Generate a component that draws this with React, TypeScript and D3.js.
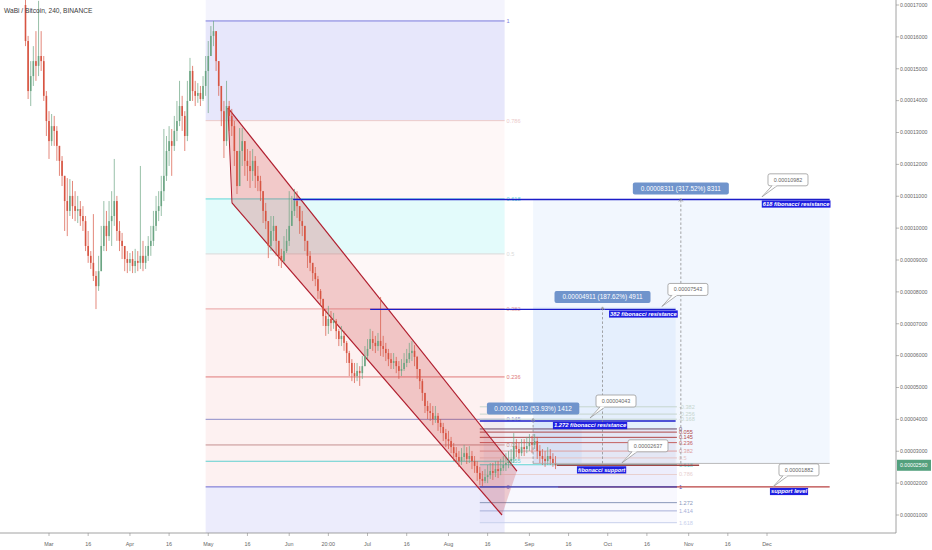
import React from 'react';
import * as d3 from 'd3';

// ---------- DATA (prices in satoshi, 1e-8 BTC) ----------
const TITLE = 'WaBi / Bitcoin, 240, BINANCE';
const CANDLE_START = '2018-02-20';
const FIRST_OPEN = 17000;
const closes = [
  15870,14300,14770,15240,15090,15400,15240,14150,13360,12730,
  13200,13050,12580,12110,11640,10850,10540,11010,10690,10540,
  10600,10380,10220,9440,9130,8910,8500,8180,8650,9440,
  10070,9750,10220,10380,10850,9910,9600,9440,9030,8910,
  9030,8810,8970,8910,9130,8910,9130,9440,9600,10070,
  10540,10690,11160,11640,12420,12730,12580,13050,13360,13830,
  13520,12890,13990,14930,14300,14150,14240,14050,14460,14930,
  15400,16030,16180,15240,14460,13670,12730,13830,13520,13200,
  12420,11320,12420,12730,12110,11950,11790,12110,11640,11480,
  11160,10540,10220,9440,9910,10070,9600,9130,8970,9280,
  9600,10070,10540,10850,10690,10220,10070,9600,9130,8910,
  8590,8400,8030,7780,7240,6930,7150,7020,7090,6770,
  6520,6620,6400,6080,5770,5450,5360,5520,5450,5670,
  5990,6210,6520,6400,6300,6460,6300,6210,6080,5890,
  5770,5830,5670,5520,5580,5770,5890,6080,6150,5960,
  5580,5200,4830,4420,4260,4200,4010,4110,3890,3760,
  3570,3380,3320,3130,2940,2820,2690,2820,2940,2760,
  2850,2690,2540,2320,2130,2070,2190,2250,2380,2320,
  2440,2380,2470,2570,2630,2690,2760,3160,3070,2940,
  3130,3070,3160,3260,3200,3320,3010,2850,2760,2690,
  2850,2760,2630,2560,
];
const highs = [
  17910,16030,15240,15710,16180,17130,16180,15400,14300,13670,
  13580,13520,13200,12580,12260,11640,11570,11540,11480,11160,
  11010,10850,10690,10380,9910,9280,10440,8650,9130,10070,
  10850,10540,10850,11160,12170,11010,10220,9850,9440,9280,
  9220,9280,9350,9280,11950,9600,9440,9750,10070,10540,
  11010,11160,11640,13110,12890,13200,13110,13520,13990,14620,
  14150,13670,14620,15340,15090,14620,14550,14460,14770,15400,
  15870,16340,16500,16180,15090,14300,13990,14620,13990,13740,
  13360,12420,13140,13140,12730,12480,12420,12480,12260,11950,
  11640,11010,10790,10070,10380,10380,10070,9600,9350,9750,
  9970,11160,11010,11230,11160,10690,10540,10070,9440,9280,
  8910,8780,8500,8090,7710,7460,7560,7400,7340,7150,
  6840,6930,6770,6460,6150,5890,5770,5770,5670,5990,
  6300,6520,6840,6770,6620,6710,7840,6620,6400,6210,
  6080,6080,5960,5830,5890,6080,6210,6400,6460,6330,
  5990,5520,5270,4730,4580,4510,4420,4420,4200,4010,
  3890,3700,3640,3450,3260,3130,3010,3100,3200,3130,
  3160,3010,2850,2690,2510,2380,2440,2570,2630,2630,
  2690,2690,2760,2850,2940,3010,3070,3570,3380,3260,
  3380,3380,3450,3540,3480,3540,3450,3200,3070,3010,
  3130,3070,2940,2850,
];
const lows = [
  15710,14050,13830,14460,14620,14770,14930,13990,12890,12170,
  12580,12580,12110,11640,11320,9910,9750,10380,10290,10220,
  10160,10070,9910,9280,8910,8720,8340,7460,8030,8650,
  9280,9280,9600,9440,10070,9600,9280,9030,8650,8590,
  8650,8590,8590,8650,8720,8650,8720,8970,9130,9440,
  9910,10220,10380,10850,11480,11950,11640,12420,12730,13200,
  13050,12420,12730,14150,13990,13830,13930,13830,13990,14150,
  13610,15400,15710,14930,14150,13200,12200,12580,13050,12890,
  11950,11070,11790,11950,11640,11480,11260,11480,11260,11160,
  10850,10160,9970,9060,9280,9600,9130,8810,8750,8910,
  9220,9440,10070,10380,10320,9820,9750,9280,8750,8650,
  8340,8180,7780,7560,6930,6620,6680,6770,6840,6520,
  6300,6300,6150,5770,5360,5200,5140,5200,5050,5270,
  5670,5890,6210,6150,6080,6150,5990,5960,5830,5670,
  5580,5580,5450,5270,5360,5520,5640,5770,5830,5670,
  5270,4950,4580,4200,4010,3950,3820,3890,3640,3570,
  3320,3130,3070,2940,2690,2630,2510,2570,2690,2600,
  2630,2440,2320,2070,1940,1880,2000,2000,2130,2100,
  2190,2160,2250,2380,2380,2470,2540,2630,2820,2760,
  2850,2850,2940,3010,2940,3070,2760,2630,2570,2510,
  2570,2570,2510,2440,
];
const LAST_PRICE = 2560;

const yTicks = [1000,2000,3000,4000,5000,6000,7000,8000,9000,10000,11000,12000,13000,14000,15000,16000,17000];
const xTickDates = ['2018-03-01','2018-03-16','2018-04-01','2018-04-16','2018-05-01','2018-05-16','2018-06-01','2018-06-16','2018-07-01','2018-07-16','2018-08-01','2018-08-16','2018-09-01','2018-09-16','2018-10-01','2018-10-16','2018-11-01','2018-11-16','2018-12-01'];
const xTickLabels = ['Mar','16','Apr','16','May','16','Jun','20:00','Jul','16','Aug','16','Sep','16','Oct','16','Nov','16','Dec'];

// big fibonacci retracement
const bigFibRange = { start: '2018-04-30T00:00', end: '2018-08-22T12:00', p0: 1882, p1: 16500 };
const bigFibLevels = [-0.236, 0, 0.055, 0.09, 0.145, 0.236, 0.382, 0.5, 0.618, 0.786, 1, 1.272];
// small fibonacci retracement
const smallFibRange = { start: '2018-08-13T00:00', end: '2018-10-27T12:00', p0: 3700, p1: 1882 };
const smallFibLevels = [-0.382, -0.256, -0.168, 0, 0.055, 0.145, 0.236, 0.382, 0.5, 0.618, 0.786, 1, 1.272, 1.414, 1.618];

// descending channel
const channelUpper = [{ t: '2018-05-08T13:00', p: 13770 }, { t: '2018-08-27T05:00', p: 2380 }];
const channelLower = [{ t: '2018-05-10T02:00', p: 10790 }, { t: '2018-08-21T12:00', p: 1000 }];

// price range measurements
const toolBase = 2618;
const toolDiffs = [8311, 4911, 1412];
const toolPcts = [317.52, 187.62, 53.93];
const toolStarts = ['2018-09-02T10:00', '2018-09-02T10:00', '2018-08-14T12:00'];
const toolEnds = ['2018-12-25T00:00', '2018-10-27T00:00', '2018-09-21T00:00'];
const toolMids = ['2018-10-29T00:00', '2018-09-29T00:00', '2018-09-02T10:00'];

// horizontal levels drawn by hand
const hLineNames = ['618 fibonacci resistance', '382 fibonacci resistance', '1.272 fibonacci resistance', 'fibonacci support', 'support level'];
const hLinePrices = [10900, 7450, 3950, 2560, 1882];
const hLineStarts = ['2018-06-02T12:00', '2018-07-02T00:00', '2018-08-13T00:00', '2018-09-11T12:00', '2018-09-12T00:00'];
const hLineEnds = ['2018-12-25T00:00', '2018-10-27T00:00', '2018-10-27T00:00', '2018-11-05T00:00', '2018-12-25T00:00'];
const hLineLabelAt = ['2018-11-29T00:00', '2018-10-01T12:00', '2018-09-10T00:00', '2018-09-19T05:00', '2018-12-02T03:00'];

// price callouts
const calloutPrices = [10982, 7543, 4043, 2637, 1882];
const calloutTimes = ['2018-11-29T02:00', '2018-10-21T18:00', '2018-09-24T05:00', '2018-10-06T11:00', '2018-12-03T07:00'];

// ---------- STYLE ----------
const FONT = '"Liberation Sans", Arial, sans-serif';
const UP = '#6ba583';
const DOWN = '#d75442';
const bigFibLine: Record<string, string> = {
  '-0.236': '#c4c4f0', '0': '#6a6ad2', '0.055': '#5fd0d0', '0.09': '#c49090', '0.145': '#8c8cc8',
  '0.236': '#e07a7a', '0.382': '#e8a2a2', '0.5': '#dadada', '0.618': '#5fd8d8', '0.786': '#eccaca',
  '1': '#7b7bdc', '1.272': '#c8c8f4',
};
const bigFibBand: Record<string, string> = {
  '0': 'rgba(110,110,230,0.13)', '0.055': 'rgba(235,120,120,0.10)', '0.09': 'rgba(235,120,120,0.10)',
  '0.145': 'rgba(235,120,120,0.10)', '0.236': 'rgba(235,120,120,0.10)', '0.382': 'rgba(235,120,120,0.10)',
  '0.5': 'rgba(235,140,140,0.07)', '0.618': 'rgba(0,215,215,0.11)', '0.786': 'rgba(235,140,140,0.07)',
  '1': 'rgba(110,110,230,0.17)', '1.272': 'rgba(110,110,230,0.08)',
};
const smallFibLine: Record<string, string> = {
  '-0.382': '#c6d6ce', '-0.256': '#c6d6ce', '-0.168': '#c6d6ce', '0': '#6a4a6a', '0.055': '#b04848',
  '0.145': '#b04848', '0.236': '#c46060', '0.382': '#dea0a0', '0.5': '#e6c4c4', '0.618': '#60d4d4',
  '0.786': '#e8d0d0', '1': '#5050b8', '1.272': '#8a98ba', '1.414': '#a8b0d8', '1.618': '#c8d0ec',
};
const smallFibBand: Record<string, string> = {
  '0.055': 'rgba(235,120,120,0.06)', '0.145': 'rgba(235,120,120,0.06)', '0.236': 'rgba(235,120,120,0.06)',
  '0.382': 'rgba(235,120,120,0.06)', '0.5': 'rgba(235,120,120,0.06)', '0.618': 'rgba(235,120,120,0.06)',
  '0.786': 'rgba(110,110,230,0.12)', '1': 'rgba(110,110,230,0.12)', '1.272': 'rgba(110,110,230,0.05)',
  '1.414': 'rgba(110,110,230,0.05)', '1.618': 'rgba(110,110,230,0.05)',
};
const hLineColors = ['#1c1cc8', '#1c1cc8', '#1c1cc8', '#a04848', '#b84040'];

const T = (s: string) => new Date(s.length === 10 ? s + 'T00:00:00Z' : s + ':00Z');
const fmt8 = (v: number) => (v / 1e8).toFixed(8);

const PLOT_R = 896;
const PLOT_B = 533;

export default function App() {
  const x = d3.scaleUtc().domain([T('2018-03-01'), T('2018-12-01')]).range([49, 767]);
  const y = d3.scaleLinear().domain([1000, 17000]).range([515, 5]);

  const startDay = T(CANDLE_START);
  const candles = closes.map((c, i) => {
    const o = i === 0 ? FIRST_OPEN : closes[i - 1];
    const h = Math.max(highs[i], o, c);
    const l = Math.min(lows[i], o, c);
    return { t: d3.utcDay.offset(startDay, i), o, h, l, c };
  });

  const fibPrice = (r: { p0: number; p1: number }, lv: number) => r.p0 + lv * (r.p1 - r.p0);

  const renderFib = (r: typeof bigFibRange, levels: number[], lineC: Record<string, string>, bandC: Record<string, string>, key: string) => {
    const x0 = x(T(r.start));
    const x1 = x(T(r.end));
    const bands = levels.slice(1).map((lv, i) => {
      const ya = y(fibPrice(r, levels[i]));
      const yb = y(fibPrice(r, lv));
      const col = bandC[String(lv)];
      if (!col) return null;
      return <rect key={key + 'b' + i} x={x0} y={Math.min(ya, yb)} width={x1 - x0} height={Math.abs(yb - ya)} fill={col} />;
    });
    const lines = levels.map((lv, i) => {
      const yy = y(fibPrice(r, lv));
      const visible = yy > 4 && yy < PLOT_B - 4;
      return (
        <g key={key + 'l' + i}>
          <line x1={x0} x2={x1} y1={yy} y2={yy} stroke={lineC[String(lv)]} strokeWidth={1} />
          {visible && (
            <text x={x1 + 2} y={yy} dy="0.35em" fontSize={5.6} fill={lineC[String(lv)]} fontFamily={FONT}>{String(lv)}</text>
          )}
        </g>
      );
    });
    return { bands, lines };
  };

  const big = renderFib(bigFibRange, bigFibLevels, bigFibLine, bigFibBand, 'big');
  const small = renderFib(smallFibRange, smallFibLevels, smallFibLine, smallFibBand, 'small');

  const chPts = [
    [x(T(channelUpper[0].t)), y(channelUpper[0].p)],
    [x(T(channelUpper[1].t)), y(channelUpper[1].p)],
    [x(T(channelLower[1].t)), y(channelLower[1].p)],
    [x(T(channelLower[0].t)), y(channelLower[0].p)],
  ];
  const chPoly = chPts.map((p) => p.join(',')).join(' ');

  return (
    <svg width={932} height={550} style={{ position: 'absolute', left: 0, top: 0, background: '#fff' }}>
      <defs>
        <clipPath id="plot"><rect x={0} y={0} width={PLOT_R} height={PLOT_B} /></clipPath>
      </defs>
      <rect x={0} y={0} width={932} height={550} fill="#ffffff" />
      <g clipPath="url(#plot)">
        {big.bands}
        {small.bands}
        {/* price range rectangles */}
        {toolDiffs.map((dv, i) => {
          const x0 = x(T(toolStarts[i]));
          const x1 = x(T(toolEnds[i]));
          const ya = y(toolBase + dv);
          const yb = y(toolBase);
          return <rect key={'tr' + i} x={x0} y={ya} width={x1 - x0} height={yb - ya} fill="rgba(33,120,230,0.06)" />;
        })}
        {big.lines}
        {small.lines}
        {/* channel */}
        <polygon points={chPoly} fill="rgba(200,40,40,0.22)" stroke="none" />
        <line x1={chPts[0][0]} y1={chPts[0][1]} x2={chPts[1][0]} y2={chPts[1][1]} stroke="#b01e2e" strokeWidth={1.2} />
        <line x1={chPts[3][0]} y1={chPts[3][1]} x2={chPts[2][0]} y2={chPts[2][1]} stroke="#b01e2e" strokeWidth={1.2} />
        <line x1={chPts[0][0]} y1={chPts[0][1]} x2={chPts[3][0]} y2={chPts[3][1]} stroke="#b01e2e" strokeWidth={1} />
        {/* candles */}
        {candles.map((d, i) => {
          const cx = x(d.t);
          const col = d.c >= d.o ? UP : DOWN;
          const yt = y(Math.max(d.o, d.c));
          const yb = y(Math.min(d.o, d.c));
          return (
            <g key={'c' + i}>
              <line x1={cx} x2={cx} y1={y(d.h)} y2={y(d.l)} stroke={col} strokeWidth={0.7} />
              <rect x={cx - 0.8} y={yt} width={1.6} height={Math.max(0.6, yb - yt)} fill={col} />
            </g>
          );
        })}
        {/* tool bottom edge */}
        <line x1={x(T(toolStarts[0]))} x2={x(T(toolEnds[0]))} y1={y(toolBase)} y2={y(toolBase)} stroke="#a8a8a8" strokeWidth={0.8} />
        {/* horizontal hand-drawn levels */}
        {hLinePrices.map((p, i) => (
          <line key={'hl' + i} x1={x(T(hLineStarts[i]))} x2={x(T(hLineEnds[i]))} y1={y(p)} y2={y(p)} stroke={hLineColors[i]} strokeWidth={1.4} />
        ))}
        {/* small fib "1" line over support */}
        <line x1={x(T(smallFibRange.start))} x2={x(T(smallFibRange.end))} y1={y(fibPrice(smallFibRange, 1))} y2={y(fibPrice(smallFibRange, 1))} stroke="#5050b8" strokeWidth={1.2} />
        {/* measurement dashed arrows + labels */}
        {toolDiffs.map((dv, i) => {
          const xm = x(T(toolMids[i]));
          const yt = y(toolBase + dv);
          const yb = y(toolBase);
          const label = `${fmt8(dv)} (${toolPcts[i].toFixed(2)}%) ${dv}`;
          const w = label.length * 3.6 + 6;
          return (
            <g key={'tm' + i}>
              <line x1={xm} x2={xm} y1={yb} y2={yt} stroke="#8f8f8f" strokeWidth={0.8} strokeDasharray="2.5,2" />
              <polyline points={`${xm - 2},${yt + 3} ${xm},${yt} ${xm + 2},${yt + 3}`} fill="none" stroke="#8f8f8f" strokeWidth={0.8} />
              <rect x={xm - w / 2} y={yt - 16} width={w} height={12} rx={2} fill="#7094cc" />
              <text x={xm} y={yt - 10} dy="0.35em" textAnchor="middle" fontSize={6.4} fill="#ffffff" fontFamily={FONT}>{label}</text>
            </g>
          );
        })}
        {/* blue text labels */}
        {hLineNames.map((name, i) => {
          const lx = x(T(hLineLabelAt[i]));
          const ly = y(hLinePrices[i]) + 1;
          const w = name.length * 2.78 + 2;
          return (
            <g key={'bl' + i}>
              <rect x={lx} y={ly} width={w} height={7.2} fill="#1f1fe0" />
              <text x={lx + 1} y={ly + 5.4} fontSize={5.1} fontStyle="italic" fontWeight="bold" fill="#ffffff" fontFamily={FONT} textLength={w - 2} lengthAdjust="spacingAndGlyphs">{name}</text>
            </g>
          );
        })}
        {/* callouts */}
        {calloutPrices.map((p, i) => {
          const ax = x(T(calloutTimes[i]));
          const ay = y(p);
          const bx = ax + 6;
          const by = ay - 23;
          return (
            <g key={'co' + i}>
              <rect x={bx} y={by} width={40} height={12} rx={2} fill="#ffffff" stroke="#9a9a9a" strokeWidth={0.8} />
              <path d={`M${bx + 4},${by + 12} L${ax},${ay} L${bx + 9},${by + 12}`} fill="#ffffff" stroke="#9a9a9a" strokeWidth={0.8} />
              <line x1={bx + 4.4} x2={bx + 8.6} y1={by + 12} y2={by + 12} stroke="#ffffff" strokeWidth={1} />
              <text x={bx + 20} y={by + 6} dy="0.35em" textAnchor="middle" fontSize={5.4} fill="#666" fontFamily={FONT}>{fmt8(p)}</text>
            </g>
          );
        })}
      </g>
      {/* title */}
      <text x={4} y={12.5} fontSize={6.6} fill="#3a3a3a" fontFamily={FONT}>{TITLE}</text>
      {/* right axis */}
      <line x1={PLOT_R} x2={PLOT_R} y1={0} y2={PLOT_B} stroke="#8a8a8a" strokeWidth={0.8} />
      {yTicks.map((v) => (
        <g key={'yt' + v}>
          <line x1={PLOT_R} x2={PLOT_R + 3} y1={y(v)} y2={y(v)} stroke="#8a8a8a" strokeWidth={0.6} />
          <text x={PLOT_R + 4} y={y(v)} dy="0.35em" fontSize={5.2} fill="#666" fontFamily={FONT}>{fmt8(v)}</text>
        </g>
      ))}
      <rect x={PLOT_R + 1} y={y(LAST_PRICE) - 5.5} width={34} height={11} fill="#53a07d" />
      <text x={PLOT_R + 4} y={y(LAST_PRICE)} dy="0.35em" fontSize={5.2} fill="#ffffff" fontFamily={FONT}>{fmt8(LAST_PRICE)}</text>
      {/* bottom axis */}
      <line x1={0} x2={PLOT_R} y1={PLOT_B} y2={PLOT_B} stroke="#8a8a8a" strokeWidth={0.8} />
      {xTickDates.map((d, i) => (
        <g key={'xt' + i}>
          <line x1={x(T(d))} x2={x(T(d))} y1={PLOT_B} y2={PLOT_B + 3} stroke="#8a8a8a" strokeWidth={0.6} />
          <text x={x(T(d))} y={544} dy="0.35em" textAnchor="middle" fontSize={5.4} fill="#666" fontFamily={FONT}>{xTickLabels[i]}</text>
        </g>
      ))}
    </svg>
  );
}
